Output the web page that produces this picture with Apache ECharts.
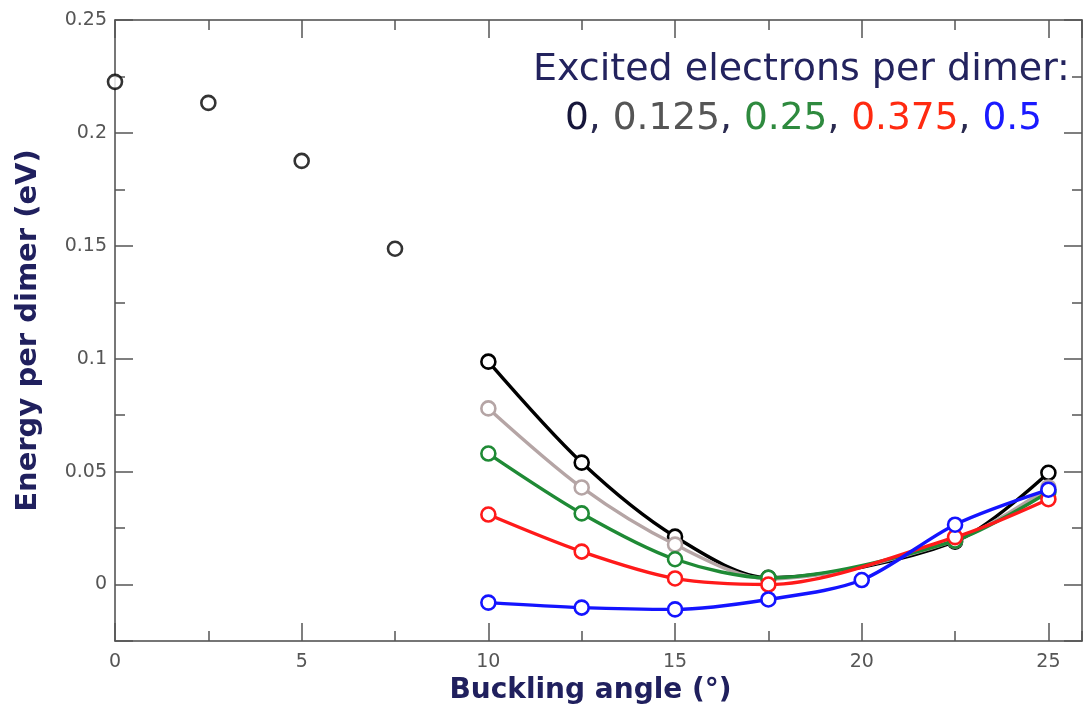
<!DOCTYPE html>
<html>
<head>
<meta charset="utf-8">
<script src="https://cdn.jsdelivr.net/npm/echarts@6/dist/echarts.min.js"></script>
<style>html,body{margin:0;padding:0;background:#fff;}#c{width:1084px;height:711px;}</style>
</head>
<body>
<div id="c"></div>
<script>
// ---- data ----
const anglesLow = [0, 2.5, 5, 7.5];
const energyLow = [0.2226, 0.2133, 0.1876, 0.1487];
const angles = [10, 12.5, 15, 17.5, 20, 22.5, 25];
const e0     = [0.0987, 0.0540, 0.0212, 0.0030, null, 0.0190, 0.0495];
const e0125  = [0.0780, 0.0430, 0.0177, 0.0025, null, 0.0195, 0.0430];
const e025   = [0.0580, 0.0315, 0.0112, 0.0030, null, 0.0195, 0.0410];
const e0375  = [0.0310, 0.0146, 0.0027, 0.0000, null, 0.0210, 0.0378];
const e05    = [-0.0080, -0.0102, -0.0110, -0.0066, 0.0020, 0.0265, 0.0420];
const xTicks = [0, 5, 10, 15, 20, 25];
const yTicks = [0, 0.05, 0.1, 0.15, 0.2, 0.25];
const seriesNames = ['0', '0.125', '0.25', '0.375', '0.5'];
const seriesColors = ['#000000', '#b5a5a5', '#1f8a35', '#ff1a1a', '#1414ff'];
const seriesValues = [e0, e0125, e025, e0375, e05];

const XMIN = 0, XMAX = 25.9, YMIN = -0.025, YMAX = 0.25;
const axisColor = '#4a4a4a';

function pairs(xs, ys) { return xs.map((x, i) => [x, ys[i]]); }

function xAx(pos, interval, len, main) {
  return {
    type: 'value', position: pos, min: XMIN, max: XMAX, interval: interval,
    axisLine: { show: main, onZero: false, lineStyle: { color: axisColor, width: 1.5 } },
    axisTick: { show: true, inside: true, length: len, lineStyle: { color: '#555', width: 1.5 } },
    axisLabel: { show: main && pos === 'bottom', showMaxLabel: false, fontSize: 19, color: '#555',
                 fontFamily: 'DejaVu Sans', margin: 12,
                 formatter: v => xTicks.includes(v) ? String(v) : '' },
    splitLine: { show: false },
    name: main && pos === 'bottom' ? 'Buckling angle (°)' : '',
    nameLocation: 'middle', nameGap: 30,
    nameTextStyle: { fontSize: 28, fontWeight: 'bold', color: '#20205e', fontFamily: 'DejaVu Sans',
                     padding: [0, 16, 0, 0] }
  };
}
function yAx(pos, interval, len, main) {
  const o = {
    type: 'value', position: pos, min: YMIN, max: YMAX,
    axisLine: { show: main, onZero: false, lineStyle: { color: axisColor, width: 1.5 } },
    axisTick: { show: true, inside: true, length: len, lineStyle: { color: '#555', width: 1.5 } },
    axisLabel: { show: main && pos === 'left', fontSize: 19, color: '#555', fontFamily: 'DejaVu Sans', margin: 8,
                 formatter: v => { const r = Math.round(v * 1000) / 1000; return yTicks.includes(r) ? String(r) : ''; } },
    splitLine: { show: false },
    name: main && pos === 'left' ? 'Energy per dimer (eV)' : '',
    nameLocation: 'middle', nameGap: 72,
    nameTextStyle: { fontSize: 29, fontWeight: 'bold', color: '#20205e', fontFamily: 'DejaVu Sans' }
  };
  if (interval != null) o.interval = interval; else o.splitNumber = 5;
  return o;
}

const series = [{
  type: 'scatter', xAxisIndex: 0, yAxisIndex: 0,
  data: pairs(anglesLow, energyLow),
  symbol: 'circle', symbolSize: 14,
  itemStyle: { color: '#fff', borderColor: '#000', borderWidth: 2.6 }
}];
seriesValues.forEach((vals, i) => {
  series.push({
    type: 'line', name: seriesNames[i], xAxisIndex: 0, yAxisIndex: 0,
    data: pairs(angles, vals), smooth: 0.3, connectNulls: true,
    symbol: 'circle', symbolSize: 14, showAllSymbol: true,
    lineStyle: { color: seriesColors[i], width: 3.4 },
    itemStyle: { color: '#fff', borderColor: seriesColors[i], borderWidth: 2.6 },
    z: 2 + i
  });
});

const chart = echarts.init(document.getElementById('c'), null, { renderer: 'canvas' });
chart.setOption({
  backgroundColor: '#ffffff',
  animation: false,
  grid: { left: 115, right: 2, top: 20, bottom: 70, containLabel: false },
  xAxis: [xAx('bottom', 5, 18, true), xAx('bottom', 2.5, 10, false), xAx('top', 5, 18, true), xAx('top', 2.5, 10, false)],
  yAxis: [yAx('left', null, 18, true), yAx('left', 0.025, 10, false), yAx('right', null, 18, true), yAx('right', 0.025, 10, false)],
  title: [{
    text: 'Excited electrons per dimer:', left: 528, top: 46,
    textStyle: { fontSize: 38, fontWeight: 'normal', color: '#23235e', fontFamily: 'DejaVu Sans' }
  }, {
    text: '{a|0}{c|, }{b|0.125}{c|, }{g|0.25}{c|, }{r|0.375}{c|, }{u|0.5}',
    left: 560, top: 95,
    textStyle: {
      fontSize: 37.5, fontWeight: 'normal', fontFamily: 'DejaVu Sans',
      rich: {
        a: { fontSize: 37.5, color: '#16163a', fontFamily: 'DejaVu Sans' },
        c: { fontSize: 37.5, color: '#2a2a50', fontFamily: 'DejaVu Sans' },
        b: { fontSize: 37.5, color: '#555555', fontFamily: 'DejaVu Sans' },
        g: { fontSize: 37.5, color: '#2e8a3e', fontFamily: 'DejaVu Sans' },
        r: { fontSize: 37.5, color: '#ff2a10', fontFamily: 'DejaVu Sans' },
        u: { fontSize: 37.5, color: '#1a1aff', fontFamily: 'DejaVu Sans' }
      }
    }
  }],
  series: series
});
</script>
</body>
</html>
